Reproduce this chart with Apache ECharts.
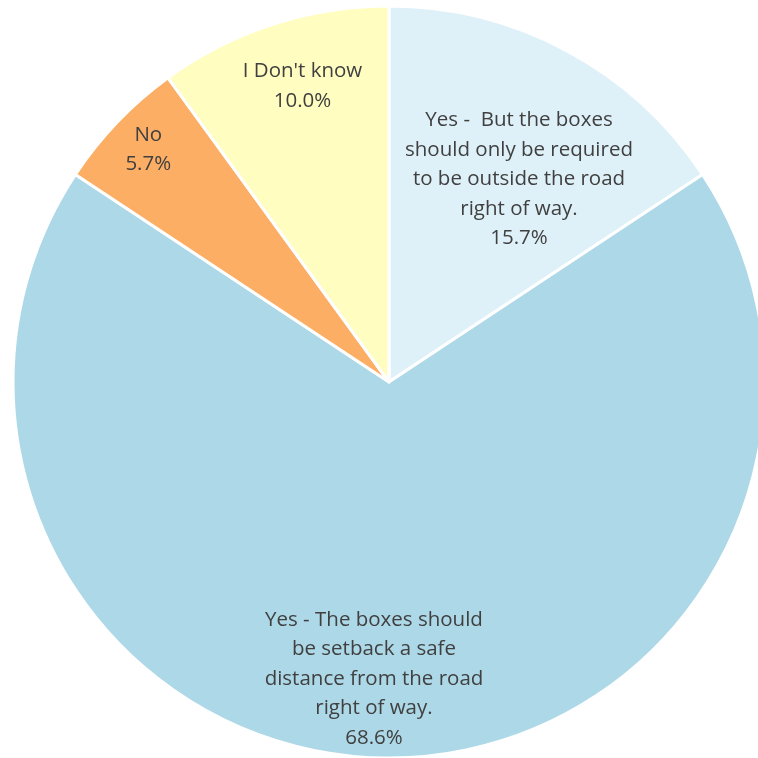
<!DOCTYPE html>
<html><head><meta charset="utf-8">
<script src="https://cdn.jsdelivr.net/npm/echarts@6/dist/echarts.min.js"></script>
<style>html,body{margin:0;padding:0;background:#fff}#c{width:758px;height:758px}</style>
</head><body><div id="c"></div>
<script>
var categories = [
  "Yes -  But the boxes\nshould only be required\nto be outside the road\nright of way.",
  "Yes - The boxes should\nbe setback a safe\ndistance from the road\nright of way.",
  "No",
  "I Don't know"
];
var values = [15.7, 68.6, 5.7, 10.0];
var colors = ["#DFF1F8", "#ADD8E7", "#FCAE64", "#FFFDC0"];
// label placement: [angle from top (deg, clockwise), fraction of radius]
var labelPlace = [[32.7, 0.64], [182.9, 0.79], [314, 0.89], [343.7, 0.82]];

var CX = 389, CY = 382, R = 376;
var chart = echarts.init(document.getElementById('c'), null, {renderer: 'canvas'});
chart.setOption({
  animation: false,
  backgroundColor: '#fff',
  series: [{
    type: 'pie',
    center: [CX, CY],
    radius: [0, R],
    startAngle: 90,
    clockwise: true,
    data: categories.map(function (c, i) {
      return {name: c, value: values[i], itemStyle: {color: colors[i]}};
    }),
    itemStyle: {borderColor: '#fff', borderWidth: 3},
    label: {
      show: true,
      position: 'inside',
      color: '#404040',
      fontFamily: 'Open Sans',
      fontSize: 20.5,
      lineHeight: 29.5,
      align: 'center',
      formatter: function (p) { return p.name + '\n' + p.value.toFixed(1) + '%'; }
    },
    labelLine: {show: false},
    labelLayout: function (p) {
      var lp = labelPlace[p.dataIndex];
      var a = lp[0] * Math.PI / 180;
      return {
        x: CX + lp[1] * R * Math.sin(a),
        y: CY - lp[1] * R * Math.cos(a),
        align: 'center',
        verticalAlign: 'middle'
      };
    }
  }]
});
</script></body></html>
